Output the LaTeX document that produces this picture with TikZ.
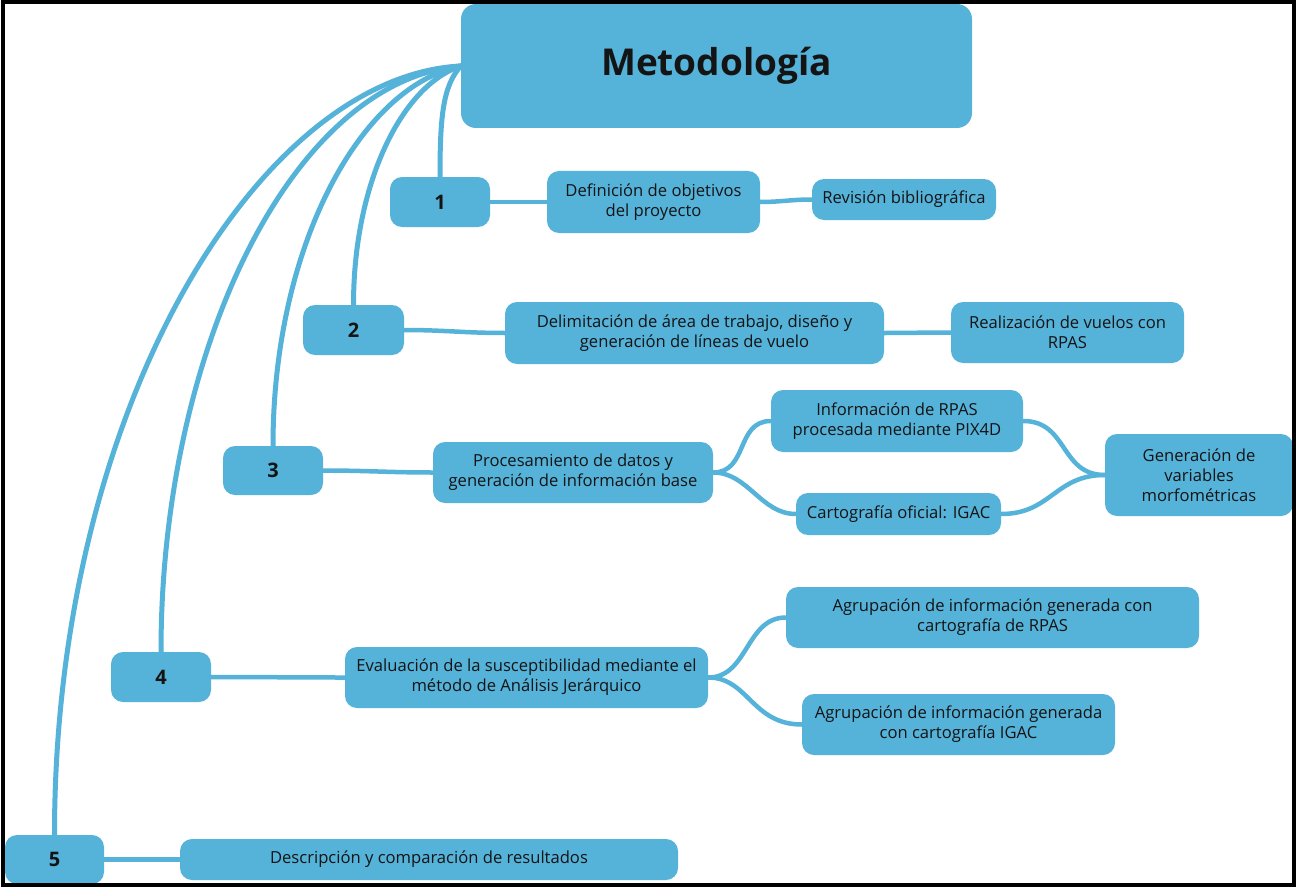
\documentclass[tikz,border=0pt]{standalone}
\usepackage{fontspec}
\setmainfont{Open Sans}
\definecolor{mblue}{RGB}{85,178,217}
\definecolor{mtext}{RGB}{20,20,20}
\begin{document}
\begin{tikzpicture}[x=1pt,y=-1pt,
  box/.style={fill=mblue, draw=none, rounded corners=12pt, align=center, inner sep=0pt,
    text=mtext, font=\fontsize{16.6}{20}\selectfont},
  numbox/.style={box, font=\fontsize{20}{22}\selectfont\bfseries},
  conn/.style={draw=mblue, line width=4.5pt, line cap=round},
  branch/.style={draw=mblue, line width=5pt, line cap=round}
]
\fill[white] (0,0) rectangle (1296,888);
\useasboundingbox (0,0) rectangle (1296,888);

% nodes
\node[box, rounded corners=15pt, minimum width=511pt, minimum height=124pt,
      font=\fontsize{37}{42}\selectfont\bfseries] (meta) at (716.5,66) {Metodología};

\node[numbox, minimum width=100pt, minimum height=50pt] (n1) at (440,202) {1};
\node[box, minimum width=213pt, minimum height=62pt] (d1) at (653.5,202) {Definición de objetivos\\del proyecto};
\node[box, minimum width=184pt, minimum height=41pt] (r1) at (904,199.5) {Revisión bibliográfica};

\node[numbox, minimum width=101pt, minimum height=50pt] (n2) at (353.5,330) {2};
\node[box, minimum width=379pt, minimum height=62pt] (d2) at (694.5,333) {Delimitación de área de trabajo, diseño y\\generación de líneas de vuelo};
\node[box, minimum width=233pt, minimum height=61pt] (r2) at (1067.5,332.5) {Realización de vuelos con\\RPAS};

\node[numbox, minimum width=100pt, minimum height=49pt] (n3) at (273,470.5) {3};
\node[box, minimum width=280pt, minimum height=61pt] (p3) at (573,472.5) {Procesamiento de datos y\\generación de información base};
\node[box, minimum width=252pt, minimum height=62pt] (i3) at (897,421) {Información de RPAS\\procesada mediante PIX4D};
\node[box, minimum width=205pt, minimum height=42pt] (k3) at (898.5,514) {Cartografía oficial: IGAC};
\node[box, minimum width=188pt, minimum height=82pt] (g3) at (1199,475) {Generación de\\variables\\morfométricas};

\node[numbox, minimum width=100pt, minimum height=50pt] (n4) at (161,677) {4};
\node[box, minimum width=363pt, minimum height=61pt] (e4) at (526.5,677.5) {Evaluación de la susceptibilidad mediante el\\método de Análisis Jerárquico};
\node[box, minimum width=413pt, minimum height=61pt] (a4) at (992.5,617.5) {Agrupación de información generada con\\cartografía de RPAS};
\node[box, minimum width=313pt, minimum height=61pt] (b4) at (958.5,724.5) {Agrupación de información generada\\con cartografía IGAC};

\node[numbox, minimum width=99pt, minimum height=49pt] (n5) at (54.5,859.5) {5};
\node[box, minimum width=498pt, minimum height=41pt] (d5) at (429,859.5) {Descripción y comparación de resultados};

% branches from the root
\draw[branch] (meta.west) .. controls +(-18,20) and +(0,-60) .. (n1.north);
\draw[branch] (meta.west) .. controls +(-60,20) and +(0,-120) .. (n2.north);
\draw[branch] (meta.west) .. controls +(-100,20) and +(0,-200) .. (n3.north);
\draw[branch] (meta.west) .. controls +(-170,15) and +(0,-300) .. (n4.north);
\draw[branch] (meta.west) .. controls +(-200,10) and +(0,-430) .. (n5.north);

% links between boxes
\draw[conn] (n1.east) to[out=0,in=180] (d1.west);
\draw[conn] (d1.east) to[out=0,in=180] (r1.west);
\draw[conn] (n2.east) to[out=0,in=180] (d2.west);
\draw[conn] (d2.east) to[out=0,in=180] (r2.west);
\draw[conn] (n3.east) to[out=0,in=180] (p3.west);
\draw[conn] (p3.east) .. controls +(35,0) and +(-35,0) .. (i3.west);
\draw[conn] (p3.east) .. controls +(35,0) and +(-35,0) .. (k3.west);
\draw[conn] (i3.east) .. controls +(45,0) and +(-45,0) .. (g3.west);
\draw[conn] (k3.east) .. controls +(50,0) and +(-50,0) .. (g3.west);
\draw[conn] (n4.east) to[out=0,in=180] (e4.west);
\draw[conn] (e4.east) .. controls +(40,0) and +(-40,0) .. (a4.west);
\draw[conn] (e4.east) .. controls +(40,0) and +(-50,0) .. (b4.west);
\draw[conn] (n5.east) to[out=0,in=180] (d5.west);

% frame
\draw[black, line width=4pt] (3,2.5) rectangle (1293.5,885);
\end{tikzpicture}
\end{document}
